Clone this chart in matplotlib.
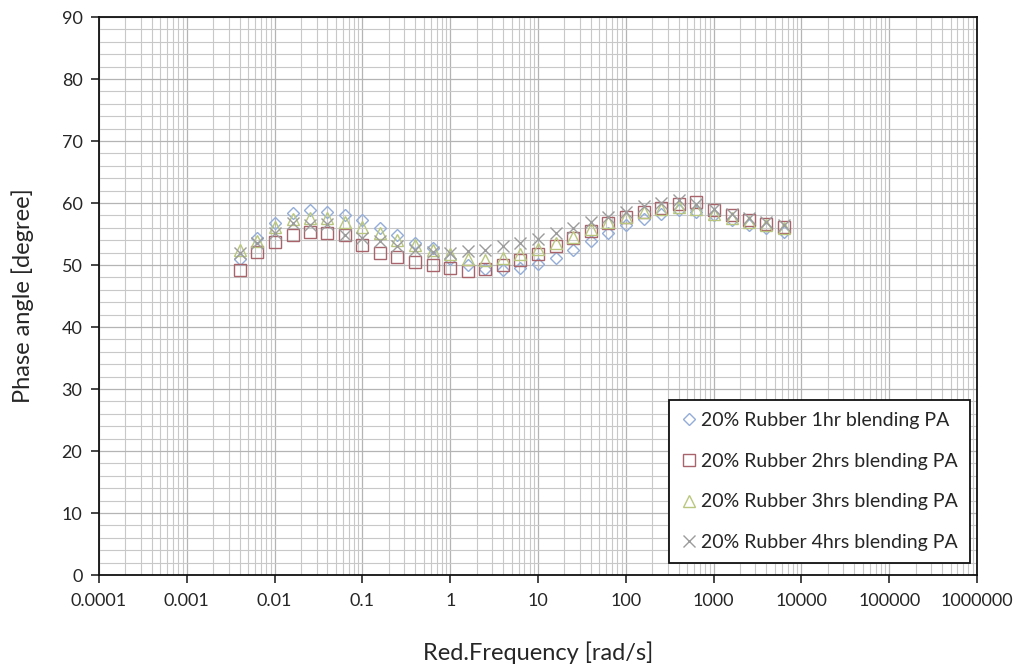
import matplotlib
matplotlib.use("Agg")
import matplotlib.pyplot as plt
from matplotlib.ticker import FixedLocator, NullFormatter

plt.rcParams['font.family'] = ['Lato', 'DejaVu Sans']

# reduced frequency [rad/s]
freq = [0.004, 0.0063, 0.01, 0.016, 0.025, 0.04, 0.063, 0.1, 0.16, 0.25,
        0.4, 0.63, 1.0, 1.6, 2.5, 4.0, 6.3, 10, 16, 25,
        40, 63, 100, 160, 250, 400, 630, 1000, 1600, 2500,
        4000, 6300]

# phase angle [degree]
pa_1hr = [51.0, 54.3, 56.7, 58.4, 58.9, 58.5, 58.0, 57.2, 56.0, 54.8,
          53.5, 52.8, 51.0, 50.0, 49.3, 49.2, 49.6, 50.2, 51.2, 52.5,
          53.8, 55.2, 56.5, 57.5, 58.3, 58.8, 58.6, 58.0, 57.3, 56.5,
          55.9, 55.3]
pa_2hrs = [49.2, 52.1, 53.7, 54.8, 55.3, 55.2, 54.8, 53.2, 51.9, 51.3,
           50.5, 50.0, 49.5, 49.0, 49.3, 50.0, 50.8, 51.8, 53.0, 54.3,
           55.5, 56.8, 57.8, 58.5, 59.2, 59.8, 60.2, 58.8, 58.0, 57.3,
           56.6, 56.2]
pa_3hrs = [52.5, 53.8, 56.2, 57.5, 57.6, 57.6, 57.0, 56.2, 55.2, 54.0,
           53.2, 52.4, 51.8, 51.0, 50.8, 51.2, 51.8, 52.6, 53.5, 54.6,
           55.8, 57.0, 57.8, 58.5, 59.0, 59.3, 59.0, 58.3, 57.6, 57.0,
           56.4, 56.0]
pa_4hrs = [51.9, 53.5, 55.2, 56.8, 56.5, 56.6, 54.8, 54.3, 53.8, 53.0,
           52.4, 52.1, 51.9, 52.2, 52.5, 53.0, 53.5, 54.2, 55.2, 56.0,
           57.0, 57.8, 58.6, 59.5, 60.0, 60.5, 59.8, 59.0, 58.3, 57.6,
           57.0, 56.5]

x_ticks = [0.0001, 0.001, 0.01, 0.1, 1, 10, 100, 1000, 10000, 100000, 1000000]
x_labels = ['0.0001', '0.001', '0.01', '0.1', '1', '10', '100', '1000',
            '10000', '100000', '1000000']

fig = plt.figure(figsize=(10.18, 6.65), dpi=100)
ax = fig.add_axes([0.0973, 0.1353, 0.8624, 0.8391])

ax.plot(freq, pa_1hr, linestyle='none', marker='D', markersize=6.5,
        markerfacecolor='none', markeredgecolor='#93acd8', markeredgewidth=1.0,
        label='20% Rubber 1hr blending PA')
ax.plot(freq, pa_2hrs, linestyle='none', marker='s', markersize=9,
        markerfacecolor='none', markeredgecolor='#a8636b', markeredgewidth=1.0,
        label='20% Rubber 2hrs blending PA')
ax.plot(freq, pa_3hrs, linestyle='none', marker='^', markersize=8,
        markerfacecolor='none', markeredgecolor='#b9c77e', markeredgewidth=1.0,
        label='20% Rubber 3hrs blending PA')
ax.plot(freq, pa_4hrs, linestyle='none', marker='x', markersize=8,
        color='#9c9c9c', markeredgewidth=1.0,
        label='20% Rubber 4hrs blending PA')

ax.set_xscale('log')
ax.set_xlim(0.0001, 1000000)
ax.set_ylim(0, 90)

ax.xaxis.set_major_locator(FixedLocator(x_ticks))
ax.set_xticklabels(x_labels)
minor_x = [m * 10.0 ** e for e in range(-4, 6) for m in range(2, 10)]
ax.xaxis.set_minor_locator(FixedLocator(minor_x))
ax.xaxis.set_minor_formatter(NullFormatter())
ax.set_yticks(range(0, 91, 10))
ax.set_yticks(range(0, 91, 2), minor=True)

ax.grid(True, which='major', color='#b4b4b4', linewidth=0.9)
ax.grid(True, which='minor', color='#c8c8c8', linewidth=0.8)
ax.set_axisbelow(True)

ax.tick_params(axis='both', which='major', direction='out', length=6,
               width=1.2, labelsize=13, colors='#262626')
ax.tick_params(axis='x', which='major', pad=7)
ax.tick_params(axis='y', which='major', pad=6)
ax.tick_params(axis='both', which='minor', length=0)
for sp in ax.spines.values():
    sp.set_linewidth(1.3)
    sp.set_color('#111111')

ax.set_xlabel('Red.Frequency [rad/s]', fontsize=17, labelpad=23, color='#262626')
ax.set_ylabel('Phase angle [degree]', fontsize=17, labelpad=20, color='#262626')

leg = ax.legend(loc='lower right', bbox_to_anchor=(0.992, 0.022), fontsize=14,
                frameon=True, fancybox=False, framealpha=1, edgecolor='#111111',
                labelspacing=1.22, handlelength=0.8, handletextpad=0.25,
                borderpad=0.6, borderaxespad=0)
leg.get_frame().set_linewidth(1.3)
for t in leg.get_texts():
    t.set_color('#262626')

fig.savefig('out.png', dpi=100)
